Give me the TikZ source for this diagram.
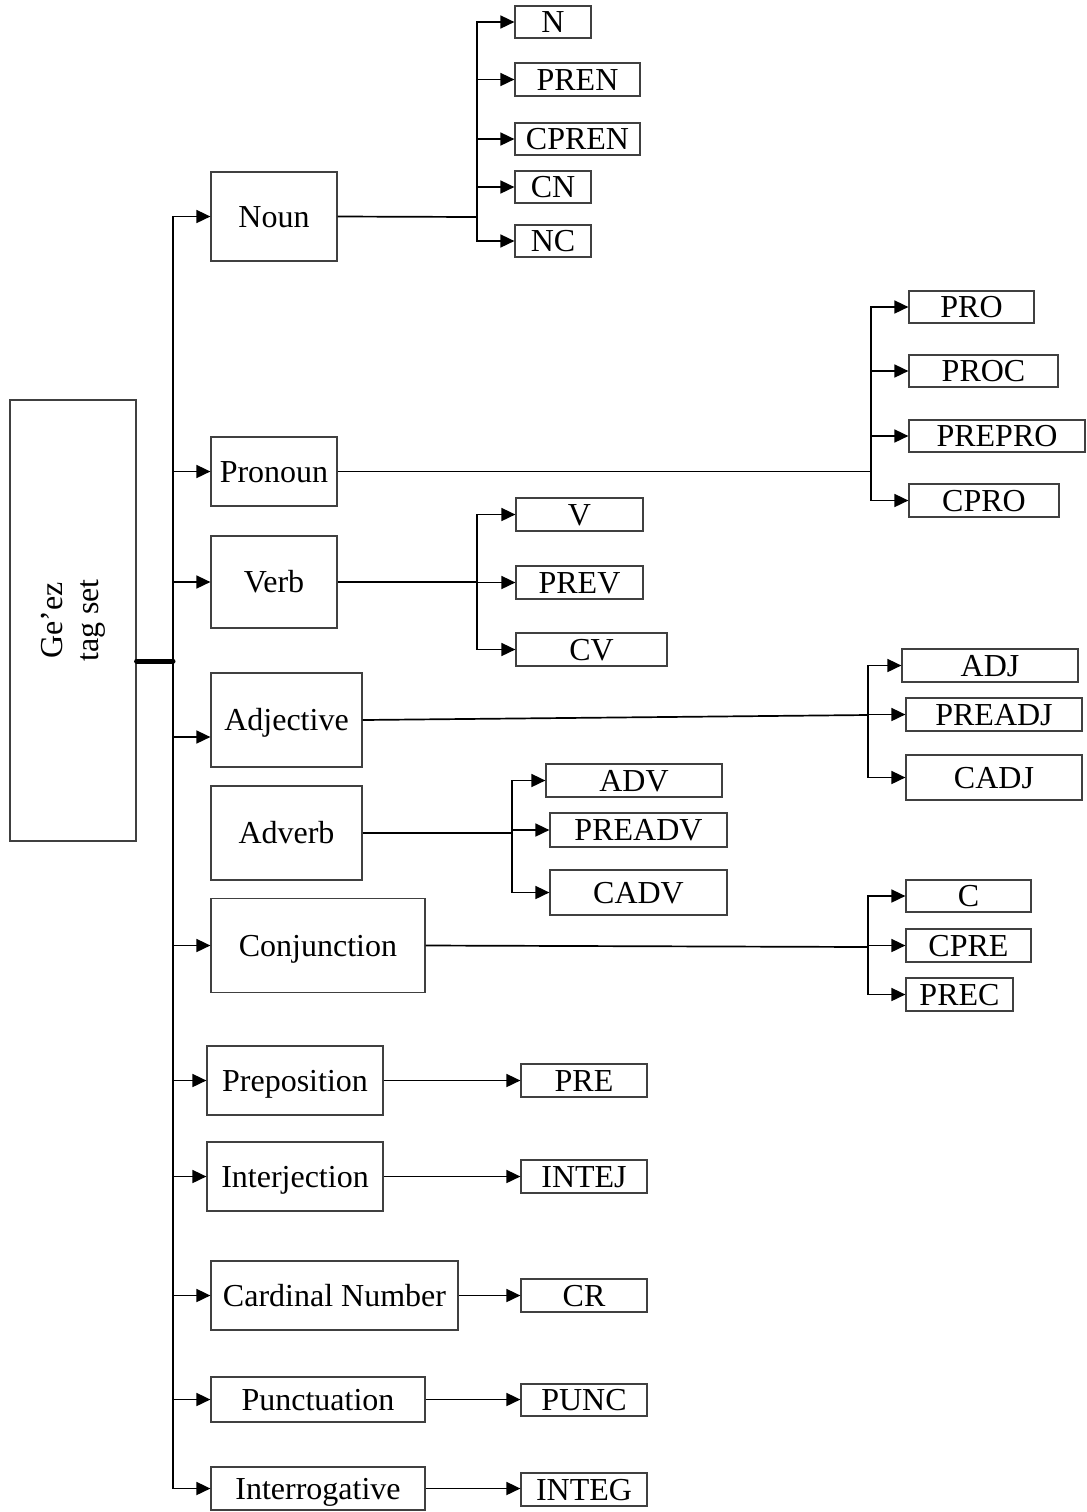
\documentclass[tikz,border=0pt]{standalone}
\usepackage{fontspec}
\setmainfont{Liberation Serif}
\usepackage{tikz}
\usetikzlibrary{arrows.meta,positioning,calc}
\tikzset{
  box/.style={draw=black!75,line width=0.6pt,inner sep=0pt,align=center,
              font=\fontsize{16}{18}\selectfont},
  cat/.style={box,text height=11pt,text depth=0.4pt},
  leaf/.style={box,text height=10.8pt,text depth=0pt},
  lnk/.style={line width=0.85pt,black},
  arr/.style={lnk,-{Triangle[length=7pt,width=6.5pt]}},
  root/.style={line width=2.5pt,black,line cap=round},
}

\begin{document}
\begin{tikzpicture}[x=0.5pt,y=-0.5pt]
  \useasboundingbox (0,0) rectangle (1087,1512);
  % root of the tag set
  \node[box,rotate=90,minimum width=441*0.5pt,minimum height=126*0.5pt] (geez) at (73,620.5) {Ge’ez\\tag set};
  % word classes
  \foreach \n/\t/\cx/\cy/\w/\h in {noun/Noun/274/216.5/126/89, pron/Pronoun/274/471.5/126/69,
      verb/Verb/274/582/126/92, adj/Adjective/286.5/720/151/94, adv/Adverb/286.5/833/151/94,
      conj/Conjunction/318/945.5/214/94, prep/Preposition/295/1080.5/176/69,
      intj/Interjection/295/1176.5/176/69, card/Cardinal Number/334.5/1295.5/247/69,
      punc/Punctuation/318/1399.5/214/45, intr/Interrogative/318/1488.5/214/43}{
    \node[cat,minimum width=\w*0.5pt,minimum height=\h*0.5pt] (\n) at (\cx,\cy) {\t};}
  % tags
  \foreach \n/\t/\cx/\cy/\w/\h in {ln/N/553/22/76/32, lpren/PREN/577.5/79.5/125/33,
      lcpren/CPREN/577.5/139/125/32, lcn/CN/553/187/76/32, lnc/NC/553/241/76/32,
      lpro/PRO/971.5/307/125/32, lproc/PROC/983.5/371/149/32, lprepro/PREPRO/997/436/176/32,
      lcpro/CPRO/984/500.5/150/33,
      lv/V/579.5/514.5/127/33, lprev/PREV/579.5/582.5/127/33, lcv/CV/591.5/649.5/151/33,
      ladj/ADJ/990/665.5/176/33, lpreadj/PREADJ/994/714.5/176/33, lcadj/CADJ/994/777.5/176/45,
      ladv/ADV/634/780.5/176/33, lpreadv/PREADV/638.5/830/177/34, lcadv/CADV/638.5/892.5/177/45,
      lc/C/968.5/896/125/32, lcpre/CPRE/968.5/945.5/125/33, lprec/PREC/959.5/994.5/107/33,
      lpre/PRE/584/1080.5/126/33, lintej/INTEJ/584/1176.5/126/33, lcr/CR/584/1295.5/126/33,
      lpunc/PUNC/584/1400/126/32, linteg/INTEG/584/1489.5/126/33}{
    \node[leaf,minimum width=\w*0.5pt,minimum height=\h*0.5pt] (\n) at (\cx,\cy) {\t};}

  % trunk
  \coordinate (tk) at (173,661);
  \draw[root] (geez.south |- tk) -- (tk);
  \draw[arr] (tk) |- (noun.west);
  \draw[arr] (tk) |- (intr.west);
  \foreach \n in {pron,verb,conj,prep,intj,card,punc}
    \draw[arr] (tk |- \n.west) -- (\n.west);
  \draw[arr] ($(tk |- adj.west)+(0,17)$) -- ($(adj.west)+(0,17)$);

  % branches
  \coordinate (nb) at (477,217);
  \coordinate (pb) at (871,471.5);
  \coordinate (vb) at (477,582);
  \coordinate (ab) at (868,715);
  \coordinate (db) at (512,833);
  \coordinate (cb) at (868,947);
  \draw[lnk] (noun.east) -- (nb);
  \draw[lnk] (pron.east) -- (pb);
  \draw[lnk] (verb.east) -- (vb);
  \draw[lnk] (adj.east) -- (ab);
  \draw[lnk] (adv.east) -- (db);
  \draw[lnk] (conj.east) -- (cb);
  \foreach \l in {ln,lpren,lcpren,lcn,lnc} \draw[arr] (nb) |- (\l.west);
  \foreach \l in {lpro,lproc,lprepro,lcpro} \draw[arr] (pb) |- (\l.west);
  \foreach \l in {lv,lprev,lcv} \draw[arr] (vb) |- (\l.west);
  \foreach \l in {ladj,lpreadj,lcadj} \draw[arr] (ab) |- (\l.west);
  \foreach \l in {ladv,lpreadv,lcadv} \draw[arr] (db) |- (\l.west);
  \foreach \l in {lc,lcpre,lprec} \draw[arr] (cb) |- (\l.west);

  % single tags
  \foreach \a/\b in {prep/lpre,intj/lintej,card/lcr,punc/lpunc,intr/linteg}
    \draw[arr] (\a.east) -- (\a.east -| \b.west);
\end{tikzpicture}
\end{document}
